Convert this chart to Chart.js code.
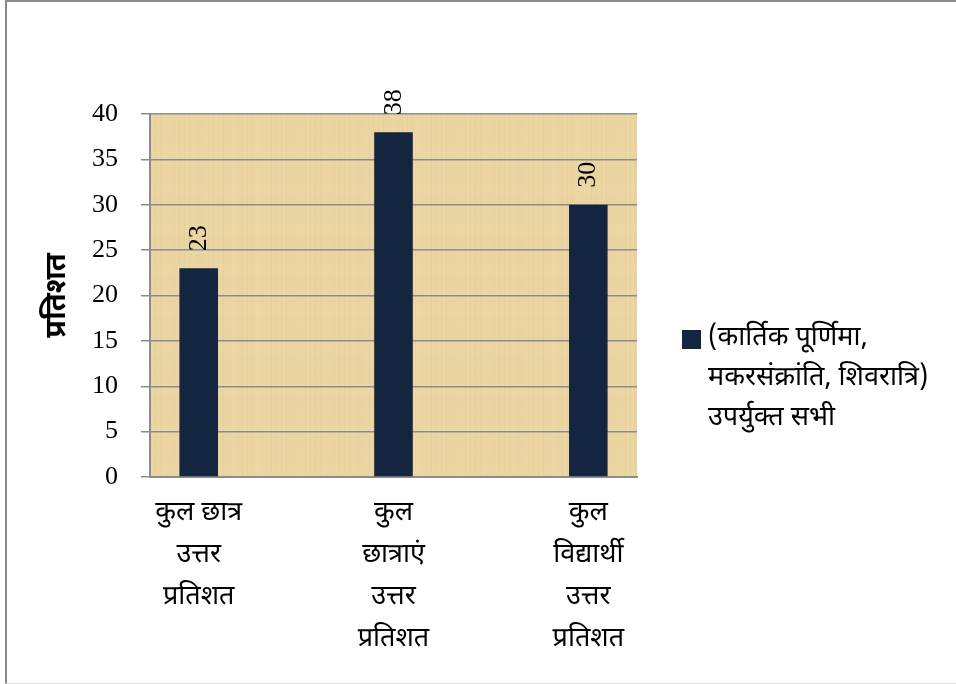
<!DOCTYPE html>
<html>
<head>
<meta charset="utf-8">
<script src="https://cdn.jsdelivr.net/npm/chart.js@4.4.1/dist/chart.umd.min.js"></script>
<style>
  html, body { margin: 0; padding: 0; background: #fff; }
  #wrap { position: relative; width: 956px; height: 684px; overflow: hidden; }
  #frame {
    position: absolute; left: 5px; top: 0; width: 951px; height: 684px;
    border-left: 2px solid #8a8a8a; border-top: 2px solid #8a8a8a; border-bottom: 1px solid #dedede;
    box-sizing: border-box; pointer-events: none;
  }
  canvas { position: absolute; left: 0; top: 0; }
</style>
</head>
<body>
<div id="wrap">
  <canvas id="chart" width="956" height="684"></canvas>
  <div id="frame"></div>
</div>
<script>
const categories = [
  ["कुल छात्र", "उत्तर", "प्रतिशत"],
  ["कुल", "छात्राएं", "उत्तर", "प्रतिशत"],
  ["कुल", "विद्यार्थी", "उत्तर", "प्रतिशत"]
];
const values = [23, 38, 30];
const yTicks = [0, 5, 10, 15, 20, 25, 30, 35, 40];
const seriesName = ["(कार्तिक पूर्णिमा,", "मकरसंक्रांति, शिवरात्रि)", "उपर्युक्त सभी"];
const yTitle = "प्रतिशत";

const devFont = "'Noto Sans Devanagari', 'Lohit Devanagari', Mangal, 'Noto Sans', sans-serif";
const serifFont = "'Liberation Serif', 'Times New Roman', serif";
const barColor = "#14263f";
const gridColor = "#8c8c8c";

// papyrus-like fill for the plot area
function makeParchment() {
  const c = document.createElement("canvas");
  c.width = 160; c.height = 160;
  const g = c.getContext("2d");
  g.fillStyle = "#e9d39f";
  g.fillRect(0, 0, 160, 160);
  for (let i = 0; i < 160; i += 2) {
    const a = 0.10 + 0.08 * Math.sin(i * 0.37) * Math.sin(i * 0.11);
    g.fillStyle = "rgba(250,236,200," + Math.max(0, a) + ")";
    g.fillRect(i, 0, 1, 160);
    const b = 0.08 + 0.07 * Math.cos(i * 0.23) * Math.sin(i * 0.07);
    g.fillStyle = "rgba(255,242,210," + Math.max(0, b) + ")";
    g.fillRect(0, i, 160, 1);
  }
  for (let i = 0; i < 160; i += 9) {
    g.fillStyle = "rgba(200,170,110,0.10)";
    g.fillRect((i * 7) % 160, 0, 1, 160);
  }
  return c;
}
const parchment = makeParchment();

const backgroundPlugin = {
  id: "parchment",
  beforeDraw(chart) {
    const { ctx, chartArea: a } = chart;
    ctx.save();
    ctx.fillStyle = ctx.createPattern(parchment, "repeat");
    ctx.fillRect(a.left, a.top, a.right - a.left, a.bottom - a.top);
    ctx.restore();
  }
};

const valueLabels = {
  id: "valueLabels",
  afterDatasetsDraw(chart) {
    const { ctx } = chart;
    const meta = chart.getDatasetMeta(0);
    ctx.save();
    ctx.fillStyle = "#000";
    ctx.font = "26px " + serifFont;
    ctx.textAlign = "left";
    ctx.textBaseline = "alphabetic";
    meta.data.forEach((bar, i) => {
      ctx.save();
      ctx.translate(bar.x + 7, bar.y - 17);
      ctx.rotate(-Math.PI / 2);
      ctx.fillText(String(values[i]), 0, 0);
      ctx.restore();
    });
    ctx.restore();
  }
};

const sideLegend = {
  id: "sideLegend",
  afterDraw(chart) {
    const { ctx, chartArea: a } = chart;
    const x = a.right + 45, y = 340, lh = 40;
    ctx.save();
    ctx.fillStyle = barColor;
    ctx.fillRect(x, y - 10, 19, 19);
    ctx.fillStyle = "#000";
    ctx.font = "27px " + devFont;
    ctx.textAlign = "left";
    ctx.textBaseline = "middle";
    seriesName.forEach((line, i) => ctx.fillText(line, x + 26, y + i * lh));
    ctx.restore();
  }
};

new Chart(document.getElementById("chart"), {
  type: "bar",
  data: {
    datasets: [{
      label: seriesName.join(" "),
      data: values.map((v, i) => ({ x: i, y: v })),
      backgroundColor: barColor,
      borderWidth: 0,
      categoryPercentage: 0.2,
      barPercentage: 0.99
    }]
  },
  options: {
    responsive: false,
    animation: false,
    layout: { padding: { top: 114, right: 319, left: 0, bottom: 0 } },
    plugins: { legend: { display: false }, tooltip: { enabled: false } },
    scales: {
      x: {
        type: "linear",
        offset: false,
        min: -0.25,
        max: 2.25,
        afterBuildTicks(scale) { scale.ticks = categories.map((c, i) => ({ value: i })); },
        afterFit(scale) { scale.height = 207; },
        grid: { display: false, drawTicks: false },
        border: { display: true, color: gridColor, width: 2 },
        ticks: {
          callback: (v) => categories[v],
          maxRotation: 0,
          autoSkip: false,
          padding: 17,
          color: "#000",
          font: { family: devFont, size: 27, lineHeight: 1.55 }
        }
      },
      y: {
        min: 0,
        max: 40,
        afterBuildTicks(scale) { scale.ticks = yTicks.map(v => ({ value: v })); },
        afterFit(scale) { scale.width = 150; },
        grid: { color: gridColor, lineWidth: 1.5, tickLength: 9, drawTicks: true },
        border: { display: true, color: gridColor, width: 2 },
        ticks: {
          padding: 23,
          color: "#000",
          font: { family: serifFont, size: 26 }
        },
        title: {
          display: true,
          text: yTitle,
          color: "#000",
          padding: { top: 42, bottom: 0 },
          font: { family: devFont, size: 29, weight: "bold" }
        }
      }
    }
  },
  plugins: [backgroundPlugin, valueLabels, sideLegend]
});
</script>
</body>
</html>
